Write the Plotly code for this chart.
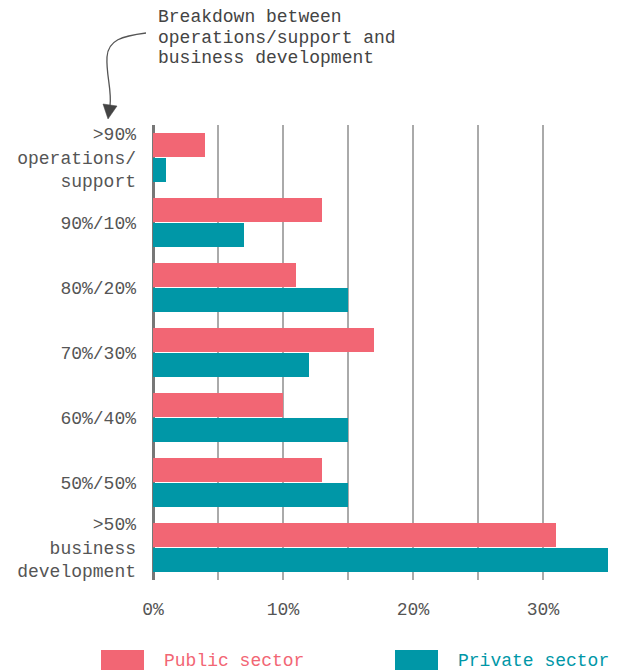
import plotly.graph_objects as go

categories = [">90%<br>operations/<br>support", "90%/10%", "80%/20%", "70%/30%",
              "60%/40%", "50%/50%", ">50%<br>business<br>development"]
public_sector = [4, 13, 11, 17, 10, 13, 31]
private_sector = [1, 7, 15, 12, 15, 15, 35]
x_tickvals = [0, 5, 10, 15, 20, 25, 30, 35]
x_ticktext = ["0%", "", "10%", "", "20%", "", "30%", ""]
title_lines = ["Breakdown between", "operations/support and", "business development"]

PINK = "#F26674"
TEAL = "#0097A7"
FONT = "Liberation Mono"
W, H = 624, 672
L, R, T, B = 153, 16, 125, 92

fig = go.Figure()
fig.add_trace(go.Bar(y=categories, x=public_sector, orientation="h", name="Public sector",
                     marker=dict(color=PINK, line=dict(width=0)), showlegend=False))
fig.add_trace(go.Bar(y=categories, x=private_sector, orientation="h", name="Private sector",
                     marker=dict(color=TEAL, line=dict(width=0)), showlegend=False))

pw, ph = W - L - R, H - T - B
def px(x):
    return (x - L) / pw
def py(y):
    return (H - B - y) / ph

shapes = []
# curved arrow
path = (f"M {px(146)},{py(33)} "
        f"C {px(122)},{py(36)} {px(108)},{py(40)} {px(107)},{py(57)} "
        f"C {px(106)},{py(75)} {px(112)},{py(90)} {px(110)},{py(106)}")
shapes.append(dict(type="path", xref="paper", yref="paper", path=path,
                   line=dict(color="#555555", width=1.3)))
head = f"M {px(103)},{py(104)} L {px(117)},{py(106)} L {px(108)},{py(119)} Z"
shapes.append(dict(type="path", xref="paper", yref="paper", path=head,
                   fillcolor="#444444", line=dict(color="#444444", width=0.5)))
# legend swatches
shapes.append(dict(type="rect", xref="paper", yref="paper",
                   x0=px(101), x1=px(144), y0=py(670), y1=py(650),
                   fillcolor=PINK, line=dict(width=0)))
shapes.append(dict(type="rect", xref="paper", yref="paper",
                   x0=px(395), x1=px(438), y0=py(670), y1=py(650),
                   fillcolor=TEAL, line=dict(width=0)))

annotations = []
for i, line in enumerate(title_lines):
    annotations.append(dict(text=line, xref="paper", yref="paper", x=px(156), y=py(17 + 20.5 * i),
                            xanchor="left", yanchor="middle", align="left", showarrow=False,
                            font=dict(family=FONT, size=18, color="#444444")))
annotations += [
    dict(text="Public sector", xref="paper", yref="paper", x=px(162), y=py(661),
         xanchor="left", yanchor="middle", showarrow=False,
         font=dict(family=FONT, size=18, color=PINK)),
    dict(text="Private sector", xref="paper", yref="paper", x=px(456), y=py(661),
         xanchor="left", yanchor="middle", showarrow=False,
         font=dict(family=FONT, size=18, color=TEAL)),
]

fig.update_layout(
    width=W, height=H,
    margin=dict(l=L, r=R, t=T, b=B, pad=0),
    paper_bgcolor="white", plot_bgcolor="white",
    barmode="group", bargap=0.23, bargroupgap=0.04,
    shapes=shapes, annotations=annotations,
    font=dict(family=FONT, size=18, color="#555555"),
    xaxis=dict(range=[0, 35], tickvals=x_tickvals, ticktext=x_ticktext,
               showgrid=True, gridcolor="#aaaaaa", gridwidth=2,
               zeroline=True, zerolinecolor="#777777", zerolinewidth=3,
               showline=False, ticks="", ticklabelstandoff=16,
               tickfont=dict(family=FONT, size=18, color="#555555"), fixedrange=True),
    yaxis=dict(autorange="reversed", showgrid=False, zeroline=False, showline=False,
               ticks="", ticklabelstandoff=16,
               tickfont=dict(family=FONT, size=18, color="#555555")),
)

fig.write_html("out.html")
